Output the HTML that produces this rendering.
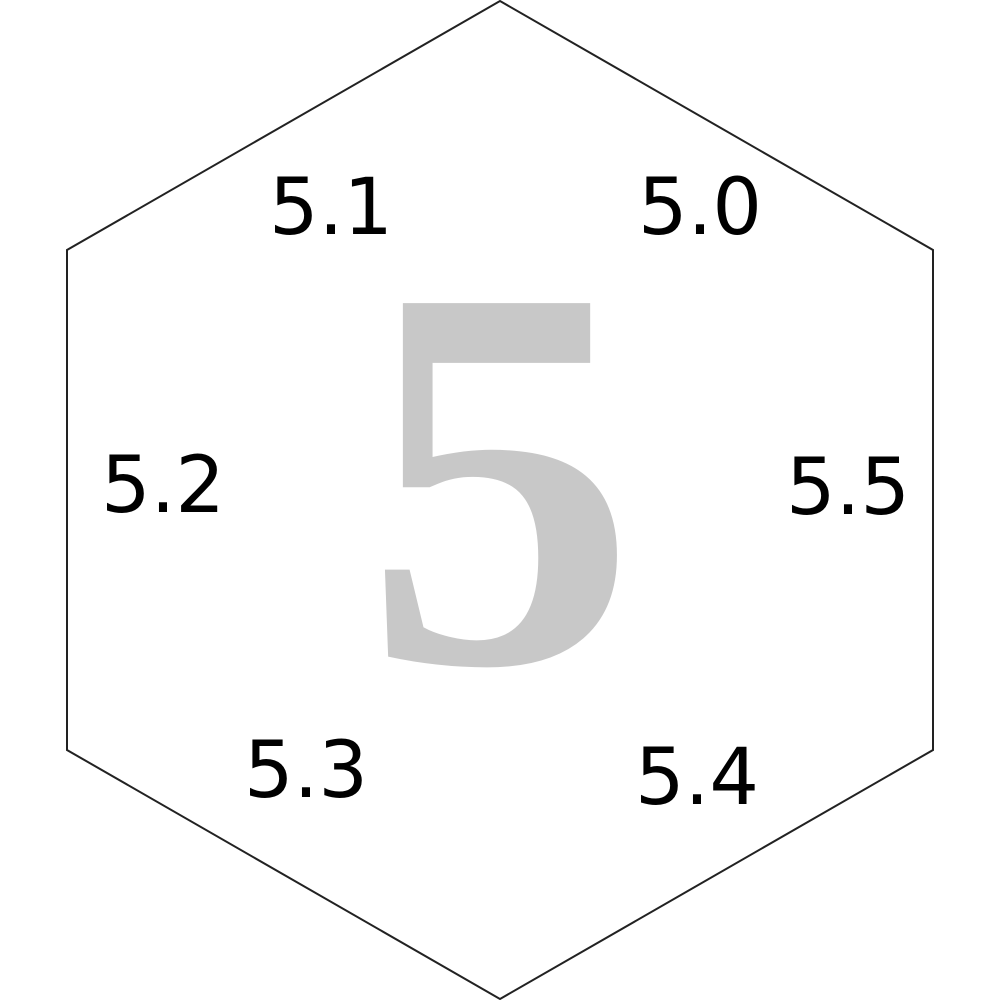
<!DOCTYPE html>
<html>
<head>
<meta charset="utf-8">
<style>
html,body{margin:0;padding:0;background:#fff;}
svg{display:block;}
</style>
</head>
<body>
<svg width="1000" height="1000" viewBox="0 0 1000 1000">
  <polygon points="500,1 933,250 933,750 500,999 67,750 67,250" fill="#fff" stroke="#222" stroke-width="2"/>
  <text x="500" y="662" text-anchor="middle" font-family="Liberation Serif, serif" font-weight="bold" font-size="548" fill="#c8c8c8">5</text>
  <g font-family="DejaVu Sans, Liberation Sans, sans-serif" font-size="78" fill="#000" text-anchor="middle">
    <text x="331" y="234">5.1</text>
    <text x="700" y="234">5.0</text>
    <text x="163" y="512">5.2</text>
    <text x="848" y="514">5.5</text>
    <text x="306" y="797">5.3</text>
    <text x="697" y="804">5.4</text>
  </g>
</svg>
</body>
</html>
